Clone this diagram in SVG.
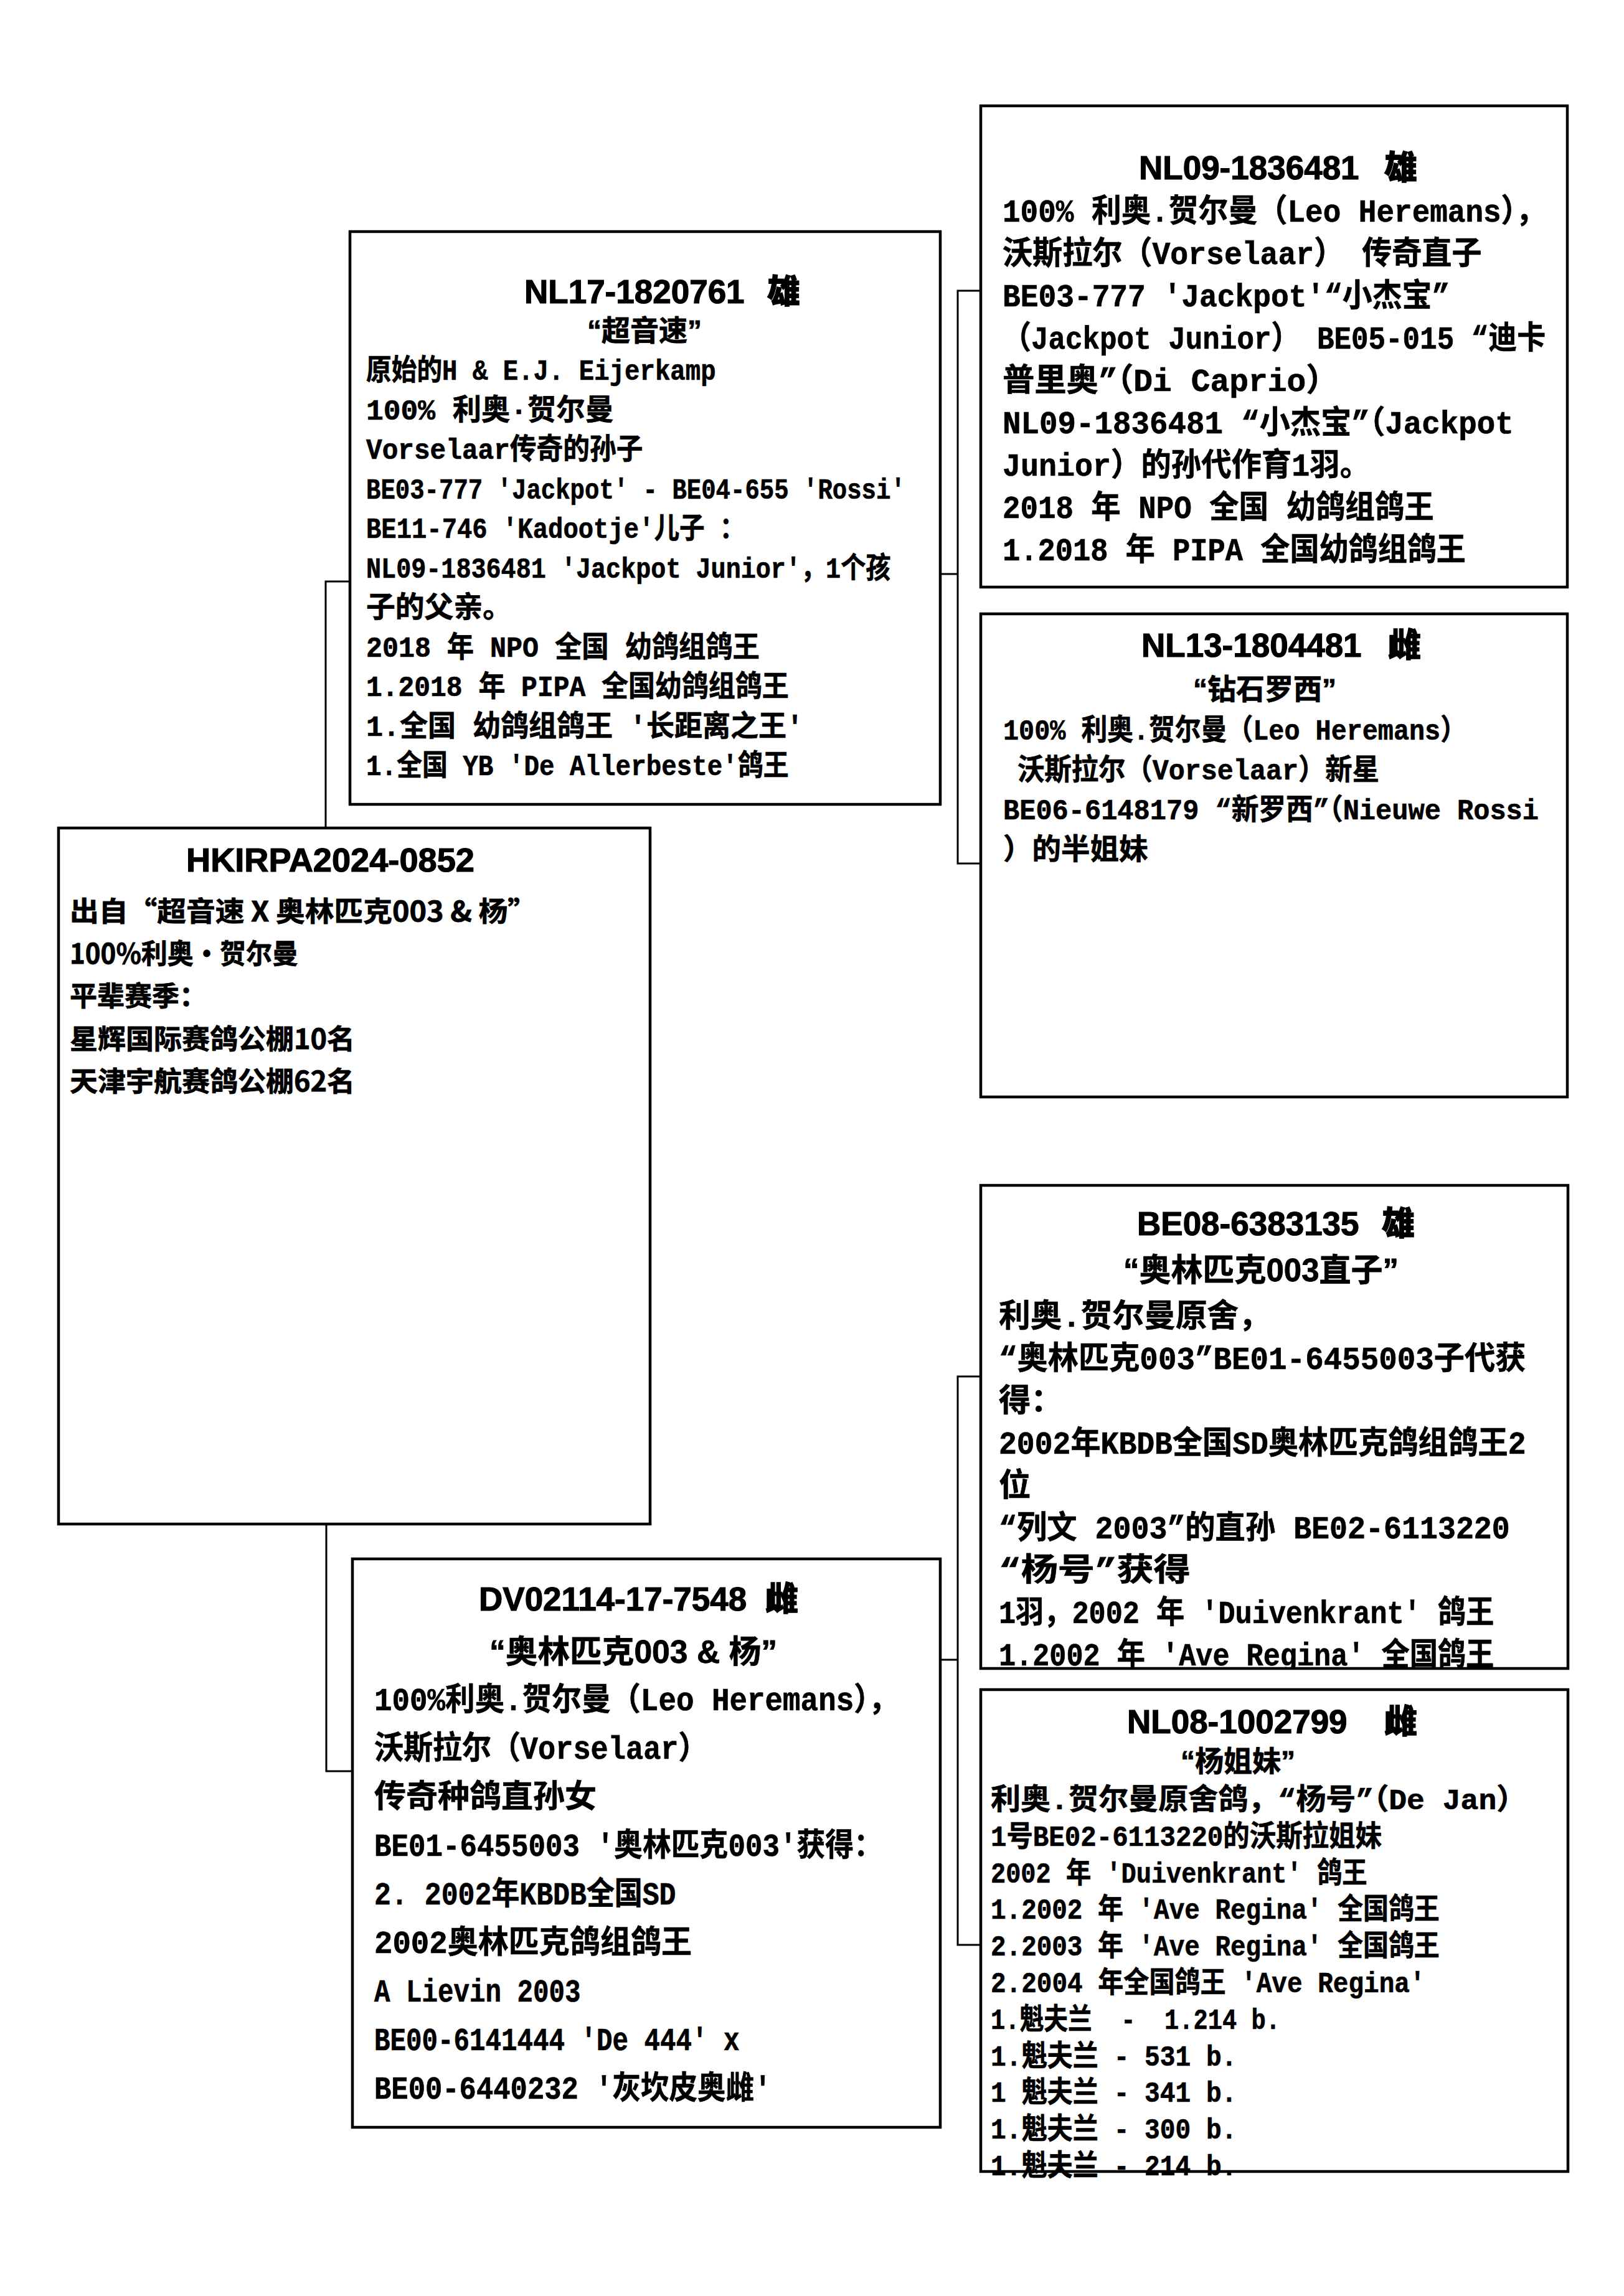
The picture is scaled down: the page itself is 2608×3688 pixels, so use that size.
<svg xmlns="http://www.w3.org/2000/svg" width="2608" height="3688" viewBox="0 0 2608 3688">
<defs>
<style>
.box{fill:none;stroke:#000;stroke-width:4.5}
.wire{fill:none;stroke:#000;stroke-width:3}
.hd{font-family:"Liberation Sans","Noto Sans CJK SC",sans-serif;font-weight:700;font-size:53px;fill:#000;stroke:#000;stroke-width:1.2}
.sx{font-family:"Noto Sans CJK SC",sans-serif;font-weight:900}
.sub{font-family:"Liberation Sans","Noto Sans CJK SC",sans-serif;font-weight:700;text-anchor:middle;fill:#000;stroke:#000;stroke-width:0.8}
.b{font-family:"Liberation Mono","Noto Sans CJK SC",monospace;font-weight:700;fill:#000;stroke:#000;stroke-width:0.7}
.m{font-family:"Noto Sans CJK SC","Liberation Sans",sans-serif;font-weight:700;font-size:44px;fill:#000;stroke:#000;stroke-width:0.8}
</style>
<clipPath id="clipBE08"><rect x="1577" y="1906" width="939" height="772"/></clipPath>
</defs>
<rect x="0" y="0" width="2608" height="3688" fill="#fff"/>

<g id="connectors">
<path class="wire" d="M523,1330 V934 H562"/>
<path class="wire" d="M524,2448 V2845 H566"/>
<path class="wire" d="M1510,922 H1538"/>
<path class="wire" d="M1575,467 H1538 V1387 H1575"/>
<path class="wire" d="M1510,2666 H1538"/>
<path class="wire" d="M1575,2211 H1538 V3124 H1575"/>
</g>

<g id="node-HKIRPA2024-0852">
<text class="hd" x="299" y="1400" textLength="463" lengthAdjust="spacingAndGlyphs">HKIRPA2024-0852</text>
<g class="m">
<text x="112" y="1480" textLength="750" lengthAdjust="spacingAndGlyphs">出自“超音速 X 奥林匹克003 &amp; 杨”</text>
<text x="112" y="1548" textLength="367" lengthAdjust="spacingAndGlyphs">100%利奥·贺尔曼</text>
<text x="112" y="1616" textLength="220" lengthAdjust="spacingAndGlyphs">平辈赛季：</text>
<text x="112" y="1685" textLength="458" lengthAdjust="spacingAndGlyphs">星辉国际赛鸽公棚10名</text>
<text x="112" y="1753" textLength="458" lengthAdjust="spacingAndGlyphs">天津宇航赛鸽公棚62名</text>
</g>
<rect class="box" x="94" y="1330" width="950" height="1118"/>
</g>

<g id="node-NL17-1820761">
<text class="hd" x="842" y="487">NL17-1820761<tspan class="sx" x="1232">雄</tspan></text>
<text class="sub" x="1035" y="547" font-size="46">“超音速”</text>
<g class="b" font-size="46.8">
<text x="588" y="610" textLength="561.6" lengthAdjust="spacingAndGlyphs">原始的H &amp; E.J. Eijerkamp</text>
<text x="588" y="673.5" textLength="397.8" lengthAdjust="spacingAndGlyphs">100% 利奥·贺尔曼</text>
<text x="588" y="737" textLength="444.6" lengthAdjust="spacingAndGlyphs">Vorselaar传奇的孙子</text>
<text x="588" y="800.5" textLength="865.8" lengthAdjust="spacingAndGlyphs">BE03-777 'Jackpot' - BE04-655 'Rossi'</text>
<text x="588" y="864" textLength="608.4" lengthAdjust="spacingAndGlyphs">BE11-746 'Kadootje'儿子 ：</text>
<text x="588" y="927.5" textLength="842.4" lengthAdjust="spacingAndGlyphs">NL09-1836481 'Jackpot Junior'，1个孩</text>
<text x="588" y="991" textLength="234" lengthAdjust="spacingAndGlyphs">子的父亲。</text>
<text x="588" y="1054.5" textLength="631.8" lengthAdjust="spacingAndGlyphs">2018 年 NPO 全国 幼鸽组鸽王</text>
<text x="588" y="1118" textLength="678.6" lengthAdjust="spacingAndGlyphs">1.2018 年 PIPA 全国幼鸽组鸽王</text>
<text x="588" y="1181.5" textLength="702" lengthAdjust="spacingAndGlyphs">1.全国 幼鸽组鸽王 '长距离之王'</text>
<text x="588" y="1245" textLength="678.6" lengthAdjust="spacingAndGlyphs">1.全国 YB 'De Allerbeste'鸽王</text>
</g>
<rect class="box" x="562" y="372" width="948" height="920"/>
</g>

<g id="node-DV02114-17-7548">
<text class="hd" x="769" y="2587">DV02114-17-7548<tspan class="sx" x="1229">雌</tspan></text>
<text class="sub" x="1017" y="2671" font-size="51" textLength="462" lengthAdjust="spacingAndGlyphs">“奥林匹克003 &amp; 杨”</text>
<g class="b" font-size="51">
<text x="601" y="2747" textLength="841.5" lengthAdjust="spacingAndGlyphs">100%利奥.贺尔曼（Leo Heremans），</text>
<text x="601" y="2825" textLength="535.5" lengthAdjust="spacingAndGlyphs">沃斯拉尔（Vorselaar）</text>
<text x="601" y="2903" textLength="357" lengthAdjust="spacingAndGlyphs">传奇种鸽直孙女</text>
<text x="601" y="2981" textLength="816" lengthAdjust="spacingAndGlyphs">BE01-6455003 '奥林匹克003'获得：</text>
<text x="601" y="3059" textLength="484.5" lengthAdjust="spacingAndGlyphs">2. 2002年KBDB全国SD</text>
<text x="601" y="3137" textLength="510" lengthAdjust="spacingAndGlyphs">2002奥林匹克鸽组鸽王</text>
<text x="601" y="3215" textLength="331.5" lengthAdjust="spacingAndGlyphs">A Lievin 2003</text>
<text x="601" y="3293" textLength="586.5" lengthAdjust="spacingAndGlyphs">BE00-6141444 'De 444' x</text>
<text x="601" y="3371" textLength="637.5" lengthAdjust="spacingAndGlyphs">BE00-6440232 '灰坎皮奥雌'</text>
</g>
<rect class="box" x="566" y="2504" width="944" height="913"/>
</g>

<g id="node-NL09-1836481">
<text class="hd" x="1829" y="288">NL09-1836481<tspan class="sx" x="2223">雄</tspan></text>
<g class="b" font-size="51.3">
<text x="1610" y="356" textLength="872.1" lengthAdjust="spacingAndGlyphs">100% 利奥.贺尔曼（Leo Heremans），</text>
<text x="1610" y="424" textLength="769.5" lengthAdjust="spacingAndGlyphs">沃斯拉尔（Vorselaar） 传奇直子</text>
<text x="1610" y="492" textLength="718.2" lengthAdjust="spacingAndGlyphs">BE03-777 'Jackpot'“小杰宝”</text>
<text x="1610" y="560" textLength="872.1" lengthAdjust="spacingAndGlyphs">（Jackpot Junior） BE05-015 “迪卡</text>
<text x="1610" y="628" textLength="538.7" lengthAdjust="spacingAndGlyphs">普里奥”（Di Caprio）</text>
<text x="1610" y="696" textLength="820.8" lengthAdjust="spacingAndGlyphs">NL09-1836481 “小杰宝”（Jackpot</text>
<text x="1610" y="764" textLength="590" lengthAdjust="spacingAndGlyphs">Junior）的孙代作育1羽。</text>
<text x="1610" y="832" textLength="692.6" lengthAdjust="spacingAndGlyphs">2018 年 NPO 全国 幼鸽组鸽王</text>
<text x="1610" y="900" textLength="743.9" lengthAdjust="spacingAndGlyphs">1.2018 年 PIPA 全国幼鸽组鸽王</text>
</g>
<rect class="box" x="1575" y="170" width="942" height="773"/>
</g>

<g id="node-NL13-1804481">
<text class="hd" x="1833" y="1055">NL13-1804481<tspan class="sx" x="2229">雌</tspan></text>
<text class="sub" x="2031" y="1123" font-size="46">“钻石罗西”</text>
<g class="b" font-size="46.5">
<text x="1611" y="1188" textLength="744" lengthAdjust="spacingAndGlyphs">100% 利奥.贺尔曼（Leo Heremans）</text>
<text x="1634" y="1252" textLength="581" lengthAdjust="spacingAndGlyphs">沃斯拉尔（Vorselaar）新星</text>
<text x="1611" y="1316" textLength="860" lengthAdjust="spacingAndGlyphs">BE06-6148179 “新罗西”（Nieuwe Rossi</text>
<text x="1611" y="1380" textLength="232.5" lengthAdjust="spacingAndGlyphs">）的半姐妹</text>
</g>
<rect class="box" x="1575" y="986" width="942" height="776"/>
</g>

<g id="node-BE08-6383135">
<text class="hd" x="1826" y="1984">BE08-6383135<tspan class="sx" x="2219">雄</tspan></text>
<text class="sub" x="2025" y="2058" font-size="51">“奥林匹克003直子”</text>
<g class="b" font-size="51.3" clip-path="url(#clipBE08)">
<text x="1604" y="2131" textLength="436" lengthAdjust="spacingAndGlyphs">利奥.贺尔曼原舍，</text>
<text x="1604" y="2199" textLength="846.5" lengthAdjust="spacingAndGlyphs">“奥林匹克003”BE01-6455003子代获</text>
<text x="1604" y="2267" textLength="102.6" lengthAdjust="spacingAndGlyphs">得：</text>
<text x="1604" y="2335" textLength="846.5" lengthAdjust="spacingAndGlyphs">2002年KBDB全国SD奥林匹克鸽组鸽王2</text>
<text x="1604" y="2403" textLength="51.3" lengthAdjust="spacingAndGlyphs">位</text>
<text x="1604" y="2471" textLength="820.8" lengthAdjust="spacingAndGlyphs">“列文 2003”的直孙 BE02-6113220</text>
<text x="1604" y="2539" textLength="307.8" lengthAdjust="spacingAndGlyphs">“杨号”获得</text>
<text x="1604" y="2607" textLength="795.2" lengthAdjust="spacingAndGlyphs">1羽，2002 年 'Duivenkrant' 鸽王</text>
<text x="1604" y="2675" textLength="795.2" lengthAdjust="spacingAndGlyphs">1.2002 年 'Ave Regina' 全国鸽王</text>
</g>
<rect class="box" x="1575" y="1904" width="943" height="776"/>
</g>

<g id="node-NL08-1002799">
<text class="hd" x="1810" y="2784">NL08-1002799<tspan class="sx" x="2223">雌</tspan></text>
<text class="sub" x="1988" y="2845" font-size="46">“杨姐妹”</text>
<g class="b" font-size="46.5">
<text x="1591" y="2906" textLength="860.3" lengthAdjust="spacingAndGlyphs">利奥.贺尔曼原舍鸽，“杨号”（De Jan）</text>
<text x="1591" y="2964.8" textLength="627.8" lengthAdjust="spacingAndGlyphs">1号BE02-6113220的沃斯拉姐妹</text>
<text x="1591" y="3023.6" textLength="604.5" lengthAdjust="spacingAndGlyphs">2002 年 'Duivenkrant' 鸽王</text>
<text x="1591" y="3082.4" textLength="720.8" lengthAdjust="spacingAndGlyphs">1.2002 年 'Ave Regina' 全国鸽王</text>
<text x="1591" y="3141.2" textLength="720.8" lengthAdjust="spacingAndGlyphs">2.2003 年 'Ave Regina' 全国鸽王</text>
<text x="1591" y="3200" textLength="697.5" lengthAdjust="spacingAndGlyphs">2.2004 年全国鸽王 'Ave Regina'</text>
<text x="1591" y="3258.8" textLength="465" lengthAdjust="spacingAndGlyphs" xml:space="preserve">1.魁夫兰  -  1.214 b.</text>
<text x="1591" y="3317.6" textLength="395.3" lengthAdjust="spacingAndGlyphs">1.魁夫兰 - 531 b.</text>
<text x="1591" y="3376.4" textLength="395.3" lengthAdjust="spacingAndGlyphs">1 魁夫兰 - 341 b.</text>
<text x="1591" y="3435.2" textLength="395.3" lengthAdjust="spacingAndGlyphs">1.魁夫兰 - 300 b.</text>
<text x="1591" y="3494" textLength="395.3" lengthAdjust="spacingAndGlyphs">1.魁夫兰 - 214 b.</text>
</g>
<rect class="box" x="1575" y="2714" width="943" height="774"/>
</g>
</svg>
